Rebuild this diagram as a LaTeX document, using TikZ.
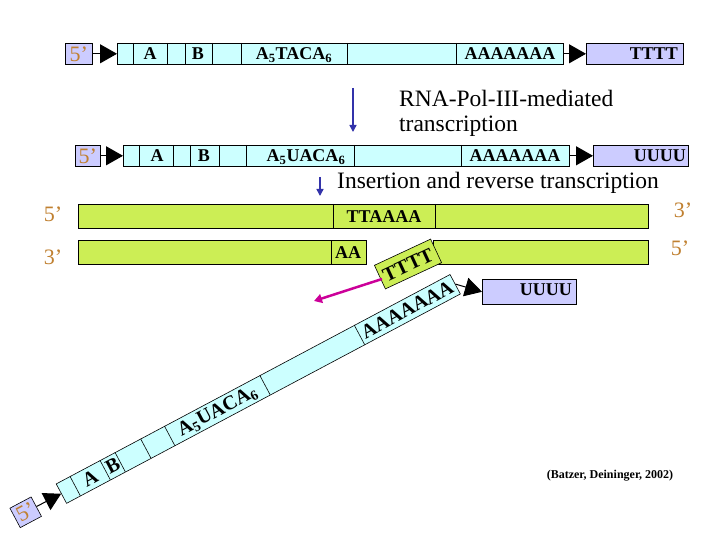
\documentclass[tikz,border=0pt]{standalone}
\usepackage{fontspec}
\setmainfont{Liberation Serif}
\usetikzlibrary{arrows.meta}
\definecolor{cy}{HTML}{CCFFFF}
\definecolor{lav}{HTML}{CCCCFF}
\definecolor{grn}{HTML}{CCEE55}
\definecolor{brn}{HTML}{C08030}
\definecolor{arblue}{HTML}{3333AA}
\definecolor{mag}{HTML}{CC0099}
\tikzset{
 cyanbox/.style={draw, fill=cy, line width=0.6pt, inner sep=0pt, anchor=north west},
 lavbox/.style={draw, fill=lav, line width=0.6pt, inner sep=0pt, anchor=north west},
 grnbox/.style={draw, fill=grn, line width=0.6pt, inner sep=0pt, anchor=north west},
 lbl/.style={font=\fontsize{18}{20}\selectfont\bfseries, inner sep=0pt},
 dlbl/.style={font=\fontsize{20}{22}\selectfont\bfseries, inner sep=0pt},
 five/.style={font=\fontsize{22}{24}\selectfont, text=brn, inner sep=0pt},
 big/.style={font=\fontsize{23.5}{25}\selectfont, inner sep=0pt, anchor=west},
 blk/.style={line width=1pt, -{Triangle[length=17pt,width=19pt]}},
 div/.style={line width=0.6pt}
}
\begin{document}
\begin{tikzpicture}[x=1pt,y=-1pt]
\useasboundingbox (0,0) rectangle (720,540);
% Row 1
\node[lavbox, minimum width=27pt, minimum height=21pt] (f1) at (65,43) {};
\node[five] at (f1.center) {5'};
\node[cyanbox, minimum width=446pt, minimum height=21pt] (b1) at (117,43) {};
\foreach \x in {133,167,185,212,241,347,456} \draw[div] (\x,43) -- (\x,64);
\node[lavbox, minimum width=97pt, minimum height=21pt] (t1) at (586,43) {};
\draw[blk] (f1.east) -- (b1.west);
\draw[blk] (b1.east) -- (t1.west);
\node[lbl] at (150,54) {A};
\node[lbl] at (294,55) {A\textsubscript{5}TACA\textsubscript{6}};
\node[lbl] at (198,54) {B};
\node[lbl] at (510,54) {AAAAAAA};
\node[lbl, anchor=east] at (678,54) {TTTT};
% transcription arrow
\coordinate (p1) at (353,88);
\coordinate (p2) at (353,132);
\draw[arblue, line width=1.5pt, -{Triangle[length=7pt,width=7pt]}] (p1) -- (p2);
\node[big] (rna) at (399,98) {RNA-Pol-III-mediated};
\node[big] (tr) at (399,126) {transcription};
% Row 2
\node[lavbox, minimum width=25pt, minimum height=21pt] (f2) at (75,145) {};
\node[five] at (f2.center) {5'};
\node[cyanbox, minimum width=446pt, minimum height=21pt] (b2) at (123,145) {};
\foreach \x in {139,173,190,219,246,354,461} \draw[div] (\x,145) -- (\x,166);
\node[lavbox, minimum width=95pt, minimum height=21pt] (t2) at (593,145) {};
\draw[blk] (f2.east) -- (b2.west);
\draw[blk] (b2.east) -- (t2.west);
\node[lbl] at (157,156) {A};
\node[lbl] at (204,156) {B};
\node[lbl] at (306,157) {A\textsubscript{5}UACA\textsubscript{6}};
\node[lbl] at (515,156) {AAAAAAA};
\node[lbl, anchor=east] at (686,156) {UUUU};
% insertion arrow
\coordinate (q1) at (320,177);
\coordinate (q2) at (320,196);
\draw[arblue, line width=1.5pt, -{Triangle[length=7pt,width=7pt]}] (q1) -- (q2);
\node[big] (ins) at (337,183) {Insertion and reverse transcription};
% green bars
\node[grnbox, minimum width=570pt, minimum height=24pt] (g1) at (78,204) {};
\draw[div] (333,204) -- (333,228);
\draw[div] (435,204) -- (435,228);
\node[lbl] at (384,217) {TTAAAA};
\node[five] at (53,214) {5'};
\node[five] at (683,210) {3'};
\node[grnbox, minimum width=288pt, minimum height=24pt] (g2) at (78,240) {};
\node[grnbox, minimum width=215pt, minimum height=24pt] (g3) at (433,240) {};
\draw[div] (331,240) -- (331,264);
\node[lbl] at (348,253) {AA};
\node[grnbox, anchor=center, minimum width=62pt, minimum height=26pt, rotate=25] (tt) at (408,264) {};
\node[dlbl, rotate=25] at (408,265) {TTTT};
\node[five] at (53,257) {3'};
\node[five] at (680,248) {5'};
% magenta arrow
\coordinate (m1) at (382,279);
\coordinate (m2) at (314,301);
\draw[mag, line width=2.5pt, -{Triangle[length=8pt,width=9pt]}] (m1) -- (m2);
% UUUU box
\node[lavbox, minimum width=94pt, minimum height=25pt] (u3) at (482,279) {};
\node[lbl, anchor=east] at (572,290) {UUUU};
% diagonal strand
\begin{scope}[shift={(61,493.5)}, rotate=28, transform shape]
\node[cyanbox, minimum width=446pt, minimum height=22pt] (b3) at (0,-11) {};
\foreach \x in {16,50,67,96,123,231,338} \draw[div] (\x,-11) -- (\x,11);
\node[dlbl] at (33,0) {A};
\node[dlbl] at (58.5,0) {B};
\node[dlbl] at (177,1) {A\textsubscript{5}UACA\textsubscript{6}};
\node[dlbl] at (392,0) {AAAAAAA};
\node[lavbox, anchor=center, minimum width=24pt, minimum height=22pt] (f3) at (-40,0) {};
\node[five] at (f3.center) {5'};
\end{scope}
\draw[blk] (f3.east) -- (b3.west);
\draw[blk] (b3.east) -- (u3.west);
\node[font=\fontsize{12}{14}\selectfont\bfseries, inner sep=0pt] (cit) at (610,476) {(Batzer, Deininger, 2002)};
\end{tikzpicture}
\end{document}
